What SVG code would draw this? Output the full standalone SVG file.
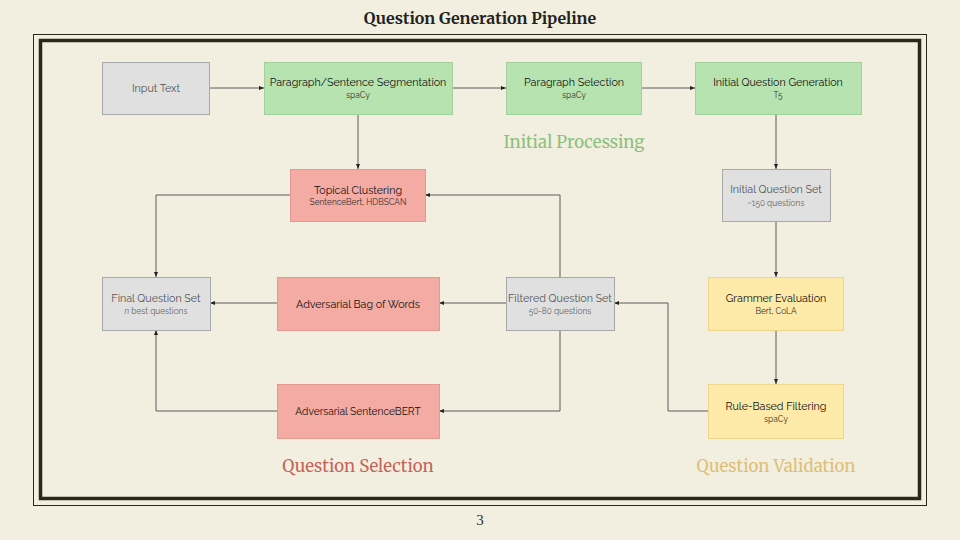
<svg xmlns="http://www.w3.org/2000/svg" width="960" height="540" viewBox="0 0 960 540">
<defs>
<marker id="arr" viewBox="0 0 10 10" refX="10" refY="5" markerWidth="5" markerHeight="5" orient="auto-start-reverse" markerUnits="userSpaceOnUse">
<path d="M0,1 L10,5 L0,9 z" fill="#222"/>
</marker>
<style>
.bg{fill:#f3efe0}
.gray{fill:#e0e0e0;stroke:#a8a8a8;stroke-width:1}
.green{fill:#b7e3b1;stroke:#a2cf9b;stroke-width:1}
.red{fill:#f4aba3;stroke:#e39890;stroke-width:1}
.yellow{fill:#fde9a8;stroke:#eed68e;stroke-width:1}
.t{font-family:Raleway,"Lato","Open Sans",sans-serif;font-size:10.7px;text-anchor:middle;fill:#111}
.tg{fill:#555}
.s{font-family:Raleway,"Lato","Open Sans",sans-serif;font-size:8.3px;text-anchor:middle;fill:#333}
.sg{fill:#666}
.c{fill:none;stroke:#5a5a5a;stroke-width:1;marker-end:url(#arr)}
.sec{font-family:Merriweather,"Liberation Serif","DejaVu Serif",serif;font-size:16.8px;text-anchor:middle}
</style>
</defs>
<rect class="bg" x="0" y="0" width="960" height="540"/>
<text x="480" y="24" font-family="Merriweather,'Liberation Serif',serif" font-weight="bold" font-size="16" text-anchor="middle" fill="#222">Question Generation Pipeline</text>
<rect x="33.5" y="34.5" width="893" height="471" fill="none" stroke="#2a2618" stroke-width="1"/>
<rect x="40.5" y="40.5" width="879" height="458" fill="none" stroke="#2a2618" stroke-width="3.5"/>
<text x="480" y="525" font-family="'Liberation Serif',serif" font-size="15" text-anchor="middle" fill="#333">3</text>

<g id="connectors">
<path class="c" d="M210,88 H264"/>
<path class="c" d="M452,88 H506"/>
<path class="c" d="M641,88 H695"/>
<path class="c" d="M776,114 V169"/>
<path class="c" d="M358,114 V169"/>
<path class="c" d="M776,221 V277"/>
<path class="c" d="M776,330 V384"/>
<path class="c" d="M708,411 H668 V303 H614"/>
<path class="c" d="M560,277 V195 H425"/>
<path class="c" d="M506,303 H439"/>
<path class="c" d="M560,330 V411 H439"/>
<path class="c" d="M290,195 H156 V277"/>
<path class="c" d="M277,303 H210"/>
<path class="c" d="M277,411 H156 V330"/>
</g>

<g id="input-text">
<rect class="gray" x="102.5" y="62.5" width="107" height="52"/>
<text class="t tg" x="156" y="92">Input Text</text>
</g>
<g id="segmentation">
<rect class="green" x="264.5" y="62.5" width="188" height="52"/>
<text class="t" x="358" y="86">Paragraph/Sentence Segmentation</text>
<text class="s" x="358" y="98">spaCy</text>
</g>
<g id="paragraph-selection">
<rect class="green" x="506.5" y="62.5" width="135" height="52"/>
<text class="t" x="574" y="86">Paragraph Selection</text>
<text class="s" x="574" y="98">spaCy</text>
</g>
<g id="initial-question-generation">
<rect class="green" x="695.5" y="62.5" width="166" height="52"/>
<text class="t" x="778" y="86">Initial Question Generation</text>
<text class="s" x="778" y="98">T5</text>
</g>
<g id="initial-question-set">
<rect class="gray" x="722.5" y="169.5" width="108" height="52"/>
<text class="t tg" x="776" y="193">Initial Question Set</text>
<text class="s sg" x="776" y="206">~150 questions</text>
</g>
<g id="grammer-evaluation">
<rect class="yellow" x="708.5" y="277.5" width="135" height="53"/>
<text class="t" x="776" y="302">Grammer Evaluation</text>
<text class="s" x="776" y="314">Bert, CoLA</text>
</g>
<g id="rule-based-filtering">
<rect class="yellow" x="708.5" y="384.5" width="135" height="54"/>
<text class="t" x="776" y="410">Rule-Based Filtering</text>
<text class="s" x="776" y="422">spaCy</text>
</g>
<g id="filtered-question-set">
<rect class="gray" x="506.5" y="277.5" width="108" height="53"/>
<text class="t tg" x="560" y="302">Filtered Question Set</text>
<text class="s sg" x="560" y="314">50-80 questions</text>
</g>
<g id="topical-clustering">
<rect class="red" x="290.5" y="169.5" width="135" height="52"/>
<text class="t" x="358" y="194">Topical Clustering</text>
<text class="s" x="358" y="205">SentenceBert, HDBSCAN</text>
</g>
<g id="adversarial-bow">
<rect class="red" x="277.5" y="277.5" width="162" height="53"/>
<text class="t" x="358" y="308">Adversarial Bag of Words</text>
</g>
<g id="adversarial-sbert">
<rect class="red" x="277.5" y="384.5" width="162" height="54"/>
<text class="t" x="358" y="415" style="font-size:10.2px">Adversarial SentenceBERT</text>
</g>
<g id="final-question-set">
<rect class="gray" x="102.5" y="277.5" width="108" height="53"/>
<text class="t tg" x="156" y="302">Final Question Set</text>
<text class="s sg" x="156" y="314"><tspan font-style="italic">n</tspan> best questions</text>
</g>

<text class="sec" x="574" y="148" fill="#8dbf7c">Initial Processing</text>
<text class="sec" x="358" y="472" fill="#c4655c">Question Selection</text>
<text class="sec" x="776" y="472" fill="#dcc077">Question Validation</text>
</svg>
